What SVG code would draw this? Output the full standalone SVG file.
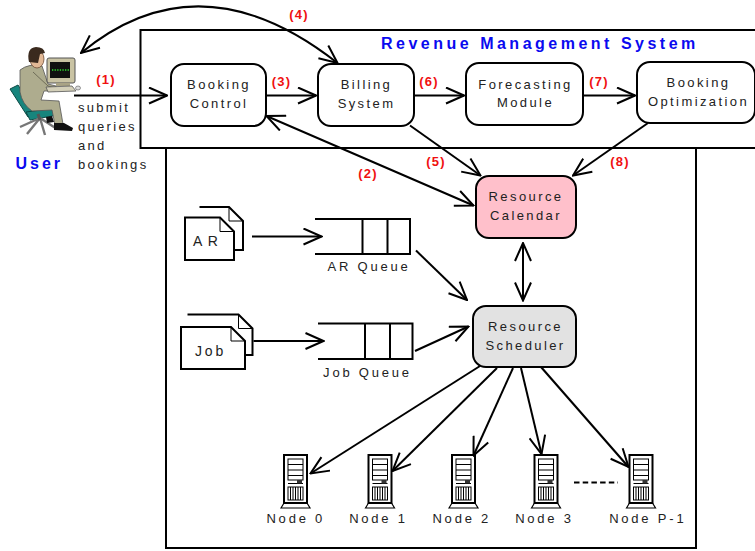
<svg xmlns="http://www.w3.org/2000/svg" width="755" height="551" viewBox="0 0 755 551">
  <defs>
    <style>
      .box{fill:#fff;stroke:#000;stroke-width:2}
      .frame{fill:none;stroke:#000;stroke-width:2}
      .thin{fill:none;stroke:#000;stroke-width:1}
      .lbl{font-family:"Liberation Sans",Arial,sans-serif;font-size:13px;letter-spacing:2.4px;fill:#222;text-anchor:middle}
      .small{font-family:"Liberation Sans",Arial,sans-serif;font-size:13px;letter-spacing:2.8px;fill:#222;text-anchor:middle}
      .note{font-family:"Liberation Sans",Arial,sans-serif;font-size:13px;letter-spacing:2.3px;fill:#222}
      .step{font-family:"Liberation Sans",Arial,sans-serif;font-weight:bold;font-size:13px;letter-spacing:1.2px;fill:#f01010;text-anchor:middle}
      .title{font-family:"Liberation Sans",Arial,sans-serif;font-weight:bold;font-size:16px;fill:#0a0aef}
      .wire{fill:none;stroke:#000;stroke-width:2;marker-end:url(#arr)}
      .both{marker-start:url(#arr)}
    </style>
    <marker id="arr" viewBox="0 0 20 18" refX="19" refY="9" markerWidth="20" markerHeight="18" markerUnits="userSpaceOnUse" orient="auto-start-reverse">
      <path d="M1,1 L19,9 L1,17" fill="none" stroke="#000" stroke-width="2"/>
    </marker>
    <!-- tower server icon, origin at top-left of cabinet -->
    <g id="server">
      <polygon points="-3,53 0,48 23,48 26,53" fill="#fff" stroke="#000" stroke-width="1.2"/>
      <rect x="0" y="0" width="23" height="48" fill="#fff" stroke="#000" stroke-width="2"/>
      <rect x="4" y="4" width="15" height="21" fill="#fff" stroke="#000" stroke-width="1"/>
      <path d="M4,9.5H19M4,15H19M4,20.5H19M4,28.5H19" stroke="#000" stroke-width="1"/>
      <rect x="13" y="25" width="5" height="3.5" fill="#333"/>
      <rect x="4" y="32" width="15" height="13" fill="#fff" stroke="#000" stroke-width="1"/>
      <path d="M6.5,32V45M9,32V45M11.5,32V45M14,32V45M16.5,32V45" stroke="#000" stroke-width="1"/>
    </g>
  </defs>

  <rect width="755" height="551" fill="#fff"/>

  <!-- system boundaries -->
  <g id="rms-frame">
    <path class="frame" d="M760,30 H140.5 V148 H760"/>
    <text class="title" x="381" y="48.5" letter-spacing="3.5">Revenue Management System</text>
  </g>
  <rect id="cluster-frame" class="frame" x="166" y="148" width="530" height="400"/>

  <!-- user at workstation -->
  <g id="user">
    <!-- chair -->
    <polygon points="10,89 18,85 35,111 28,117" fill="#17857d" stroke="#0b4a45" stroke-width="1"/>
    <polygon points="26,112 56,108 58,115 30,120" fill="#17857d" stroke="#0b4a45" stroke-width="1"/>
    <path d="M40,118 L27,134 M40,118 L45,135 M40,118 L57,129 M40,118 L20,127" stroke="#777" stroke-width="2.4" fill="none"/>
    <path d="M38,114 L40,120" stroke="#555" stroke-width="3"/>
    <!-- body -->
    <path d="M20,70 Q29,63 42,66 L48,84 L56,86 L56,91 L44,91 L41,100 L59,101 L63,124 L55,125 L52,110 L32,111 Q22,104 20,92 Z" fill="#aeac8e" stroke="#555" stroke-width="0.8"/>
    <path d="M33,72 L48,86 L55,88" fill="none" stroke="#6f6d58" stroke-width="1"/>
    <!-- shoes -->
    <path d="M54,123 L64,123 L73,128 L72,131 L54,130 Z" fill="#111"/>
    <path d="M46,117 L52,116 L54,122 L47,123 Z" fill="#111"/>
    <!-- head -->
    <ellipse cx="37" cy="59" rx="7" ry="9" fill="#e2b996" stroke="#6d4a32" stroke-width="0.8"/>
    <path d="M29,62 Q26,48 36,47 Q44,47 45,53 L40,54 L38,63 Z" fill="#3a2a1e"/>
    <!-- monitor -->
    <rect x="47" y="58" width="28" height="25" rx="2" fill="#c9c3a3" stroke="#555" stroke-width="1"/>
    <rect x="50" y="62" width="20" height="16" fill="#101010"/>
    <path d="M52,70 H69" stroke="#2fe02f" stroke-width="1.6" stroke-dasharray="1.3 1.3"/>
    <rect x="56" y="83" width="14" height="3" fill="#a9a385"/>
    <!-- keyboard and mouse -->
    <polygon points="46,87 72,86 76,91 48,92" fill="#d3cfb8" stroke="#555" stroke-width="0.8"/>
    <ellipse cx="78" cy="88" rx="2.5" ry="2" fill="#ddd" stroke="#555" stroke-width="0.6"/>
    <text x="15.5" y="168.5" class="title" letter-spacing="3">User</text>
  </g>

  <g id="request-note">
    <text class="note" x="78" y="112">submit</text>
    <text class="note" x="78" y="131">queries</text>
    <text class="note" x="78" y="150">and</text>
    <text class="note" x="78" y="169">bookings</text>
  </g>

  <!-- revenue management components -->
  <g id="booking-control">
    <rect class="box" x="171" y="64" width="95" height="62" rx="13"/>
    <text class="lbl" x="219" y="89">Booking</text>
    <text class="lbl" x="219" y="108">Control</text>
  </g>
  <g id="billing-system">
    <rect class="box" x="318" y="64" width="96" height="62" rx="13"/>
    <text class="lbl" x="366.5" y="89">Billing</text>
    <text class="lbl" x="366.5" y="108">System</text>
  </g>
  <g id="forecasting-module">
    <rect class="box" x="466" y="63" width="117" height="62" rx="13"/>
    <text class="lbl" x="525.5" y="88.5">Forecasting</text>
    <text class="lbl" x="525.5" y="107">Module</text>
  </g>
  <g id="booking-optimization">
    <rect class="box" x="637" y="62" width="118" height="61" rx="13"/>
    <text class="lbl" x="698.5" y="87">Booking</text>
    <text class="lbl" x="698.5" y="105.5">Optimization</text>
  </g>

  <!-- cluster components -->
  <g id="resource-calendar">
    <rect x="476" y="176" width="100" height="62" rx="13" fill="#ffc0cb" stroke="#000" stroke-width="2"/>
    <text class="lbl" x="526" y="200.5">Resource</text>
    <text class="lbl" x="526" y="219.5">Calendar</text>
  </g>
  <g id="resource-scheduler">
    <rect x="473" y="306" width="103" height="61" rx="13" fill="#e2e2e2" stroke="#000" stroke-width="2"/>
    <text class="lbl" x="525.5" y="330.5">Resource</text>
    <text class="lbl" x="525.5" y="349.5">Scheduler</text>
  </g>

  <g id="ar-requests">
    <path d="M199.5,207 H229 L243,221 V250 H234" class="box"/>
    <path d="M229,207 V221 H243" class="thin"/>
    <path d="M185,217.5 H220 L234,231.5 V260 H185 Z" class="box"/>
    <path d="M220,217.5 V231.5 H234" class="thin"/>
    <text x="193" y="246" font-family="Liberation Sans, Arial, sans-serif" font-size="14" letter-spacing="5.5" fill="#222">AR</text>
  </g>
  <g id="job-requests">
    <path d="M187.5,314.5 H238.5 L252.5,328.5 V355 H245" class="box"/>
    <path d="M238.5,314.5 V328.5 H252.5" class="thin"/>
    <path d="M181,327 H231 L245,341 V369 H181 Z" class="box"/>
    <path d="M231,327 V341 H245" class="thin"/>
    <text x="195" y="356" font-family="Liberation Sans, Arial, sans-serif" font-size="14" letter-spacing="2.8" fill="#222">Job</text>
  </g>

  <g id="ar-queue">
    <path class="frame" d="M315,219 H410 V254 H315 M362.5,219 V254 M387.5,219 V254"/>
    <text class="small" x="369" y="271">AR Queue</text>
  </g>
  <g id="job-queue">
    <path class="frame" d="M318,323.5 H412.5 V359 H318 M365,323.5 V359 M390,323.5 V359"/>
    <text class="small" x="367.5" y="377">Job Queue</text>
  </g>

  <!-- compute nodes -->
  <g id="node-0">
    <use href="#server" x="284" y="455"/>
    <text class="small" x="295.8" y="523" letter-spacing="3.6">Node 0</text>
  </g>
  <g id="node-1">
    <use href="#server" x="368.5" y="455"/>
    <text class="small" x="378.5" y="523" letter-spacing="3.6">Node 1</text>
  </g>
  <g id="node-2">
    <use href="#server" x="452" y="455"/>
    <text class="small" x="461.8" y="523" letter-spacing="3.6">Node 2</text>
  </g>
  <g id="node-3">
    <use href="#server" x="534.5" y="455"/>
    <text class="small" x="544.5" y="523" letter-spacing="3.6">Node 3</text>
  </g>
  <g id="node-p-1">
    <use href="#server" x="629.5" y="455"/>
    <text class="small" x="647.8" y="523" letter-spacing="3.6">Node P-1</text>
  </g>
  <path id="more-nodes" d="M574,482.5 H618" stroke="#000" stroke-width="2" stroke-dasharray="5.5 3.2"/>

  <!-- connectors -->
  <g id="connectors">
    <path class="wire" d="M74,95.5 H167"/>
    <path class="wire" d="M266.5,95.5 H316"/>
    <path class="wire" d="M414,95.5 H464"/>
    <path class="wire" d="M583.5,95.5 H635"/>
    <path class="wire both" d="M81,53 Q200,-45 337.5,63"/>
    <path class="wire both" d="M473.5,205.5 L266.5,116"/>
    <path class="wire" d="M410,125.5 L480.5,175.5"/>
    <path class="wire" d="M648,123 L573,175.5"/>
    <path class="wire both" d="M523,243 V300.5"/>
    <path class="wire" d="M252,236.5 H321.5"/>
    <path class="wire" d="M253.5,341 H323.5"/>
    <path class="wire" d="M416,250.5 L467,300"/>
    <path class="wire" d="M415,351 L468.5,326.5"/>
    <path class="wire" d="M480,366 L310.5,473.5"/>
    <path class="wire" d="M497,368 L392.5,471"/>
    <path class="wire" d="M513,368 L473.5,455.5"/>
    <path class="wire" d="M521,368 L541.5,454"/>
    <path class="wire" d="M541,367 L628.5,467"/>
  </g>

  <!-- step labels -->
  <g id="step-labels">
    <text class="step" x="106" y="83.5">(1)</text>
    <text class="step" x="368" y="178">(2)</text>
    <text class="step" x="281.5" y="86">(3)</text>
    <text class="step" x="299" y="19">(4)</text>
    <text class="step" x="436" y="166">(5)</text>
    <text class="step" x="429" y="86">(6)</text>
    <text class="step" x="599" y="86">(7)</text>
    <text class="step" x="620" y="166">(8)</text>
  </g>
</svg>
